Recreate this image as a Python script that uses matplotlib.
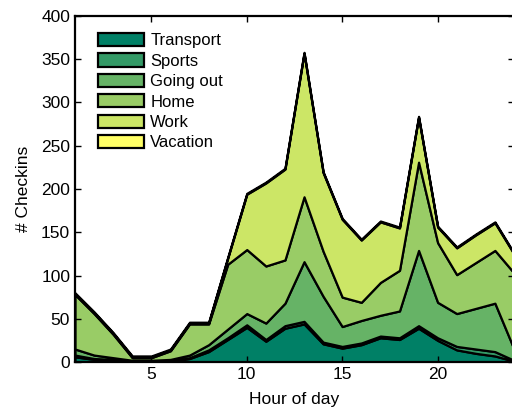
import matplotlib
matplotlib.use("Agg")
import matplotlib.pyplot as plt

plt.rcParams['font.family'] = ['Liberation Sans', 'DejaVu Sans']

# check-ins per hour, one list per category (stacked bottom to top)
hours = list(range(1, 25))
categories = ["Transport", "Sports", "Going out", "Home", "Work", "Vacation"]
transport = [6, 3, 2, 1, 1, 1, 4, 12, 26, 40, 24, 39, 44, 21, 16, 20, 28, 26, 39, 25, 14, 10, 7, 1]
sports = [2, 1, 1, 0, 0, 0, 1, 2, 2, 3, 2, 3, 3, 2, 2, 2, 2, 2, 3, 3, 4, 5, 5, 1]
going_out = [7, 4, 2, 1, 1, 2, 3, 6, 10, 13, 19, 26, 69, 53, 23, 26, 24, 31, 87, 41, 38, 47, 56, 13]
home = [63, 48, 27, 3, 3, 10, 36, 24, 75, 74, 66, 50, 75, 52, 34, 21, 38, 47, 102, 69, 45, 53, 61, 88]
work = [1, 1, 1, 1, 1, 1, 1, 1, 7, 64, 96, 105, 166, 91, 90, 72, 70, 49, 52, 18, 31, 32, 32, 22]
vacation = [1] * 24

# summer colormap, 6 steps
colors = ["#008066", "#339966", "#66b366", "#99cc66", "#cce666", "#ffff66"]

fig = plt.figure(figsize=(5.12, 4.11), dpi=100)
ax = fig.add_axes([75 / 512, 49 / 411, 439 / 512, 346 / 411])

ax.stackplot(hours, transport, sports, going_out, home, work, vacation,
             colors=colors, labels=categories, edgecolor="black", linewidth=1.6)

ax.set_xlim(1, 24)
ax.set_ylim(0, 400)
ax.set_xticks([5, 10, 15, 20])
ax.set_yticks(range(0, 401, 50))
ax.tick_params(direction="in", top=True, right=True, length=4, width=1, labelsize=12.5)
for s in ax.spines.values():
    s.set_linewidth(1.6)

ax.set_xlabel("Hour of day", fontsize=12.5, labelpad=7)
ax.set_ylabel("# Checkins", fontsize=12.5, labelpad=7)

ax.legend(loc="upper left", bbox_to_anchor=(0.025, 0.985), frameon=False,
          fontsize=12, handlelength=2.8, handleheight=0.85, handletextpad=0.35,
          labelspacing=0.3, borderpad=0.2)

fig.savefig("out.png", dpi=100)
